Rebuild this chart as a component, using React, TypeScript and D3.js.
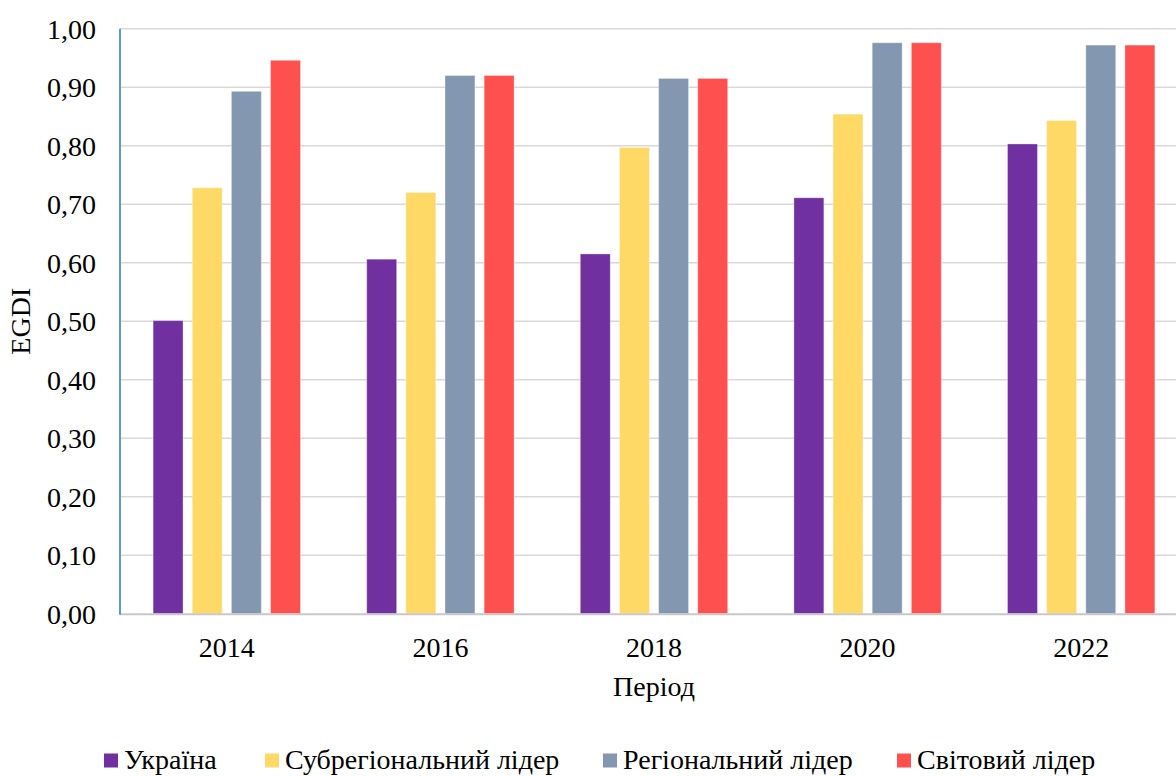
import React from "react";
import * as d3 from "d3";

const years = ["2014", "2016", "2018", "2020", "2022"];
const seriesNames = ["Україна", "Субрегіональний лідер", "Регіональний лідер", "Світовий лідер"];
const seriesColors = ["#7030a0", "#ffd966", "#8497b0", "#ff5050"];
const ukraine = [0.501, 0.606, 0.615, 0.711, 0.803];
const subregional = [0.728, 0.72, 0.797, 0.854, 0.843];
const regional = [0.893, 0.92, 0.915, 0.976, 0.972];
const world = [0.946, 0.92, 0.915, 0.976, 0.972];
const yTicks = [0, 0.1, 0.2, 0.3, 0.4, 0.5, 0.6, 0.7, 0.8, 0.9, 1.0];
const yAxisTitle = "EGDI";
const xAxisTitle = "Період";

const W = 1176;
const H = 776;
const FONT = "Liberation Serif, DejaVu Serif, serif";
const ts: React.CSSProperties = { fontFamily: FONT, fontSize: 28 };

export default function App() {
  const seriesValues = [ukraine, subregional, regional, world];
  const left = 120;
  const top = 28.7;
  const bottom = 613.7;
  const x0 = d3.scaleBand<string>().domain(years).range([left, 1188]).paddingInner(0.31).paddingOuter(0.155);
  const x1 = d3.scaleBand<string>().domain(seriesNames).range([0, x0.bandwidth()]).paddingInner(0.235).paddingOuter(0);
  const y = d3.scaleLinear().domain([0, 1]).range([bottom, top]);
  const fmt = (v: number) => d3.format(".2f")(v).replace(".", ",");
  const plotCenter = (left + 1188) / 2;

  const legendX = [104, 265, 603, 897];

  return (
    <svg width={W} height={H} style={{ position: "absolute", left: 0, top: 0, background: "#fff" }}>
      <rect x={0} y={0} width={W} height={H} fill="#fff" />
      {yTicks.map((t) => (
        <g key={t}>
          {t > 0 && (
            <line x1={left} x2={W} y1={y(t)} y2={y(t)} stroke="#d9d9d9" strokeWidth={1.6} />
          )}
          <text x={96} y={y(t)} dy="0.35em" textAnchor="end" style={ts} fill="#000">
            {fmt(t)}
          </text>
        </g>
      ))}
      {years.map((yr, i) => (
        <g key={yr}>
          {seriesNames.map((s, j) => {
            const v = seriesValues[j][i];
            return (
              <rect
                key={s}
                x={(x0(yr) as number) + (x1(s) as number)}
                y={y(v)}
                width={x1.bandwidth()}
                height={y(0) - y(v)}
                fill={seriesColors[j]}
                stroke="#ffffff"
                strokeOpacity={0.35}
                strokeWidth={1}
              />
            );
          })}
          <text x={(x0(yr) as number) + x0.bandwidth() / 2} y={657} textAnchor="middle" style={ts} fill="#000">
            {yr}
          </text>
        </g>
      ))}
      <line x1={left} x2={W} y1={bottom + 0.5} y2={bottom + 0.5} stroke="#c8c8c8" strokeWidth={2} />
      <line x1={left} x2={left} y1={top} y2={bottom + 1} stroke="#5b9bd5" strokeWidth={2} />
      <text x={plotCenter} y={696} textAnchor="middle" style={ts} fill="#000">
        {xAxisTitle}
      </text>
      <text transform={`translate(30, ${(top + bottom) / 2}) rotate(-90)`} textAnchor="middle" style={ts} fill="#000">
        {yAxisTitle}
      </text>
      {seriesNames.map((s, j) => (
        <g key={s}>
          <rect x={legendX[j]} y={753.5} width={14} height={14} fill={seriesColors[j]} />
          <text x={legendX[j] + 20} y={769} style={ts} fill="#000">
            {s}
          </text>
        </g>
      ))}
    </svg>
  );
}
